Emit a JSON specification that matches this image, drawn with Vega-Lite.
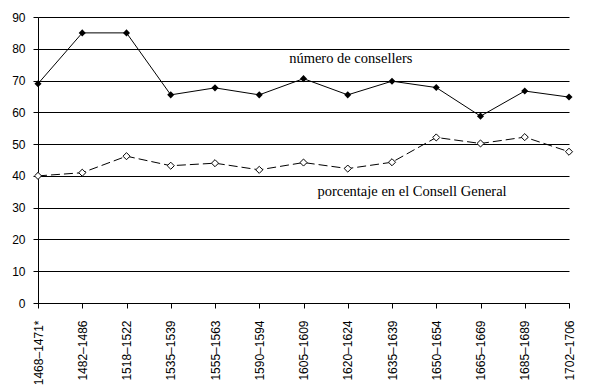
{
  "$schema": "https://vega.github.io/schema/vega-lite/v6.json",
  "autosize": "none",
  "width": 531,
  "height": 286,
  "padding": {"left": 38, "top": 17, "right": 30, "bottom": 88},
  "background": "white",
  "config": {
    "view": {"stroke": null},
    "axis": {"domainColor": "black", "tickColor": "black", "labelColor": "black", "labelFont": "Liberation Sans", "gridColor": "black", "gridOpacity": 1}
  },
  "data": {
    "values": [
      {"period": "1468–1471*", "consellers": 69, "porcentaje": 40.0},
      {"period": "1482–1486", "consellers": 85, "porcentaje": 41.0},
      {"period": "1518–1522", "consellers": 85, "porcentaje": 46.2},
      {"period": "1535–1539", "consellers": 65.5, "porcentaje": 43.2},
      {"period": "1555–1563", "consellers": 67.7, "porcentaje": 44.0},
      {"period": "1590–1594", "consellers": 65.5, "porcentaje": 41.9},
      {"period": "1605–1609", "consellers": 70.6, "porcentaje": 44.2},
      {"period": "1620–1624", "consellers": 65.5, "porcentaje": 42.3},
      {"period": "1635–1639", "consellers": 69.8, "porcentaje": 44.3},
      {"period": "1650–1654", "consellers": 67.8, "porcentaje": 52.1},
      {"period": "1665–1669", "consellers": 58.8, "porcentaje": 50.2},
      {"period": "1685–1689", "consellers": 66.7, "porcentaje": 52.2},
      {"period": "1702–1706", "consellers": 64.8, "porcentaje": 47.6}
    ]
  },
  "encoding": {
    "x": {
      "field": "period", "type": "ordinal", "sort": null,
      "scale": {"type": "point", "padding": 0},
      "axis": {"title": null, "labelAngle": -90, "labelFontSize": 12, "labelOverlap": false, "tickSize": 5, "labelPadding": 12, "grid": false, "domainWidth": 1}
    }
  },
  "layer": [
    {
      "mark": {"type": "line", "color": "black", "strokeWidth": 1},
      "encoding": {
        "y": {
          "field": "consellers", "type": "quantitative",
          "scale": {"domain": [0, 90], "nice": false},
          "axis": {"title": null, "values": [0,10,20,30,40,50,60,70,80,90], "tickCount": 10, "labelOverlap": false, "labelFontSize": 12, "tickSize": 5, "labelPadding": 8, "grid": true, "gridWidth": 1}
        }
      }
    },
    {
      "mark": {"type": "point", "shape": "diamond", "filled": true, "color": "black", "size": 50, "opacity": 1},
      "encoding": {"y": {"field": "consellers", "type": "quantitative",
          "axis": {"title": null, "values": [0,10,20,30,40,50,60,70,80,90], "tickCount": 10, "labelOverlap": false, "labelFontSize": 12, "tickSize": 5, "labelPadding": 8, "grid": true, "gridWidth": 1}}}
    },
    {
      "mark": {"type": "line", "color": "black", "strokeWidth": 1, "strokeDash": [9, 4]},
      "encoding": {"y": {"field": "porcentaje", "type": "quantitative",
          "axis": {"title": null, "values": [0,10,20,30,40,50,60,70,80,90], "tickCount": 10, "labelOverlap": false, "labelFontSize": 12, "tickSize": 5, "labelPadding": 8, "grid": true, "gridWidth": 1}}}
    },
    {
      "mark": {"type": "point", "shape": "diamond", "filled": true, "fill": "white", "stroke": "black", "strokeWidth": 1, "size": 50, "opacity": 1},
      "encoding": {"y": {"field": "porcentaje", "type": "quantitative",
          "axis": {"title": null, "values": [0,10,20,30,40,50,60,70,80,90], "tickCount": 10, "labelOverlap": false, "labelFontSize": 12, "tickSize": 5, "labelPadding": 8, "grid": true, "gridWidth": 1}}}
    },
    {
      "data": {"values": [
        {"period": "1620–1624", "v": 76.8, "label": "número de consellers"}
      ]},
      "mark": {"type": "text", "font": "Liberation Serif", "fontSize": 14.5, "color": "black", "align": "center", "baseline": "middle", "dx": 3},
      "encoding": {
        "y": {"field": "v", "type": "quantitative",
          "axis": {"title": null, "values": [0,10,20,30,40,50,60,70,80,90], "tickCount": 10, "labelOverlap": false, "labelFontSize": 12, "tickSize": 5, "labelPadding": 8, "grid": true, "gridWidth": 1}},
        "text": {"field": "label"}
      }
    },
    {
      "data": {"values": [
        {"period": "1635–1639", "v": 34.9, "label": "porcentaje en el Consell General"}
      ]},
      "mark": {"type": "text", "font": "Liberation Serif", "fontSize": 14.5, "color": "black", "align": "center", "baseline": "middle", "dx": 20},
      "encoding": {
        "y": {"field": "v", "type": "quantitative",
          "axis": {"title": null, "values": [0,10,20,30,40,50,60,70,80,90], "tickCount": 10, "labelOverlap": false, "labelFontSize": 12, "tickSize": 5, "labelPadding": 8, "grid": true, "gridWidth": 1}},
        "text": {"field": "label"}
      }
    }
  ]
}
